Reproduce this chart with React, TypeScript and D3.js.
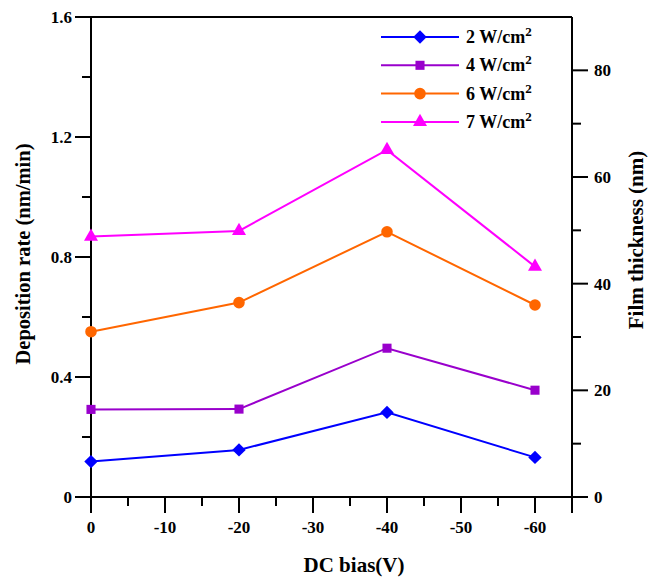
import React from 'react';
import * as d3 from 'd3';

// DC bias (V) on the x axis
const bias = [0, -20, -40, -60];
// deposition rate (nm/min) per power density
const rate2 = [0.118, 0.157, 0.282, 0.132];
const rate4 = [0.292, 0.293, 0.496, 0.356];
const rate6 = [0.551, 0.648, 0.884, 0.640];
const rate7 = [0.868, 0.887, 1.157, 0.768];
const powers = ['2', '4', '6', '7'];

const xTicks = [0, -10, -20, -30, -40, -50, -60];
const xMinor = [-5, -15, -25, -35, -45, -55];
const yTicks = [0, 0.4, 0.8, 1.2, 1.6];
const yMinor = [0.2, 0.6, 1.0, 1.4];
const y2Ticks = [0, 20, 40, 60, 80];
const y2Minor = [10, 30, 50, 70];

const W = 662;
const H = 581;
const left = 91;
const right = 572;
const top = 17;
const bottom = 497;
const font = '"Liberation Serif", "Times New Roman", serif';
const tickLen = 16;
const minorLen = 9;

const series = [
  { name: powers[0], values: rate2, color: '#0000ff', symbol: d3.symbolDiamond2, size: 115 },
  { name: powers[1], values: rate4, color: '#9900cc', symbol: d3.symbolSquare2, size: 105 },
  { name: powers[2], values: rate6, color: '#ff6600', symbol: d3.symbolCircle, size: 105 },
  { name: powers[3], values: rate7, color: '#ff00ff', symbol: d3.symbolTriangle, size: 85 },
];

export default function App() {
  const x = d3.scaleLinear().domain([0, -65]).range([left, right]);
  const y = d3.scaleLinear().domain([0, 1.6]).range([bottom, top]);
  const y2 = d3.scaleLinear().domain([0, 90]).range([bottom, top]);

  const line = d3.line<number>()
    .x((d, i) => x(bias[i]))
    .y(d => y(d));

  const sym = (type: d3.SymbolType, size: number) => d3.symbol().type(type).size(size)() || '';

  return (
    <div style={{ position: 'absolute', left: 0, top: 0 }}>
      <svg width={W} height={H} style={{ display: 'block', background: '#fff' }} fontFamily={font} fontWeight="bold">
        {/* frame */}
        <g stroke="#000" strokeWidth={2} fill="none">
          <line x1={left} y1={top} x2={right} y2={top} />
          <line x1={left - tickLen} y1={bottom} x2={right + tickLen} y2={bottom} />
          <line x1={left} y1={top} x2={left} y2={bottom + tickLen} />
          <line x1={right} y1={top} x2={right} y2={bottom + tickLen} />
        </g>

        {/* x axis */}
        <g stroke="#000" strokeWidth={2}>
          {xTicks.map(t => (
            <line key={'xt' + t} x1={x(t)} x2={x(t)} y1={bottom} y2={bottom + tickLen} />
          ))}
          {xMinor.map(t => (
            <line key={'xm' + t} x1={x(t)} x2={x(t)} y1={bottom} y2={bottom + minorLen} />
          ))}
        </g>
        <g fontSize={17} textAnchor="middle" fill="#000">
          {xTicks.map(t => (
            <text key={'xl' + t} x={x(t)} y={bottom + 36}>{t}</text>
          ))}
        </g>
        <text x={354} y={572} fontSize={21} textAnchor="middle">DC bias(V)</text>

        {/* left y axis */}
        <g stroke="#000" strokeWidth={2}>
          {yTicks.map(t => (
            <line key={'yt' + t} x1={left - tickLen} x2={left} y1={y(t)} y2={y(t)} />
          ))}
          {yMinor.map(t => (
            <line key={'ym' + t} x1={left - minorLen} x2={left} y1={y(t)} y2={y(t)} />
          ))}
        </g>
        <g fontSize={17} textAnchor="end" fill="#000">
          {yTicks.map(t => (
            <text key={'yl' + t} x={left - tickLen - 3} y={y(t) + 6}>{t === 0 ? '0' : t.toFixed(1)}</text>
          ))}
        </g>
        <text transform="translate(30 254) rotate(-90)" fontSize={20.5} textAnchor="middle">
          Deposition rate (nm/min)
        </text>

        {/* right y axis */}
        <g stroke="#000" strokeWidth={2}>
          {y2Ticks.map(t => (
            <line key={'rt' + t} x1={right} x2={right + tickLen} y1={y2(t)} y2={y2(t)} />
          ))}
          {y2Minor.map(t => (
            <line key={'rm' + t} x1={right} x2={right + minorLen} y1={y2(t)} y2={y2(t)} />
          ))}
        </g>
        <g fontSize={17} textAnchor="start" fill="#000">
          {y2Ticks.map(t => (
            <text key={'rl' + t} x={right + tickLen + 6} y={y2(t) + 6}>{t}</text>
          ))}
        </g>
        <text transform="translate(643 240) rotate(-90)" fontSize={21} textAnchor="middle">
          Film thickness (nm)
        </text>

        {/* series */}
        {series.map(s => (
          <g key={s.name}>
            <path d={line(s.values) || ''} fill="none" stroke={s.color} strokeWidth={2} />
            {s.values.map((v, i) => (
              <path key={i} d={sym(s.symbol, s.size)} transform={`translate(${x(bias[i])} ${y(v)})`} fill={s.color} />
            ))}
          </g>
        ))}

        {/* legend */}
        {series.map((s, i) => {
          const ly = 37 + i * 28.3;
          return (
            <g key={'lg' + s.name}>
              <line x1={381} x2={459} y1={ly} y2={ly} stroke={s.color} strokeWidth={2} />
              <path d={sym(s.symbol, s.size)} transform={`translate(420 ${ly})`} fill={s.color} />
              <text x={466} y={ly + 6} fontSize={18}>
                {s.name} W/cm
                <tspan fontSize={13} dy={-7}>2</tspan>
              </text>
            </g>
          );
        })}
      </svg>
    </div>
  );
}
